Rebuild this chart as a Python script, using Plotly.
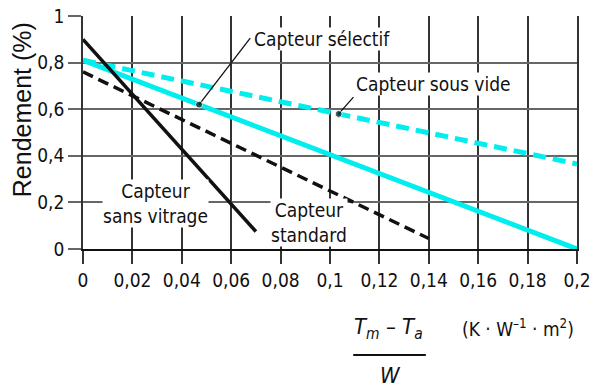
import numpy as np
import plotly.graph_objects as go

# ---- data ----
sans_vitrage_x = [0.0, 0.07]
sans_vitrage_y = [0.90, 0.075]
standard_x = [0.0, 0.14]
standard_y = [0.76, 0.045]
selectif_x = [0.0, 0.2]
selectif_y = [0.81, 0.0]
sous_vide_x = [0.0, 0.2]
sous_vide_y = [0.81, 0.365]

x_tickvals = [0, 0.02, 0.04, 0.06, 0.08, 0.1, 0.12, 0.14, 0.16, 0.18, 0.2]
x_ticktext = ["0", "0,02", "0,04", "0,06", "0,08", "0,1", "0,12", "0,14", "0,16", "0,18", "0,2"]
y_tickvals = [0, 0.2, 0.4, 0.6, 0.8, 1]
y_ticktext = ["0", "0,2", "0,4", "0,6", "0,8", "1"]

NARROW = "DejaVu Sans Condensed, Liberation Sans Narrow, sans-serif"
REG = "Liberation Sans, Arial, sans-serif"
CYAN = "#00EEEE"

fig = go.Figure()
fig.add_trace(go.Scatter(x=sous_vide_x, y=sous_vide_y, mode="lines",
                         line=dict(color=CYAN, width=5, dash="13px,7px")))
fig.add_trace(go.Scatter(x=selectif_x, y=selectif_y, mode="lines",
                         line=dict(color=CYAN, width=5)))
fig.add_trace(go.Scatter(x=standard_x, y=standard_y, mode="lines",
                         line=dict(color="#111", width=3.5, dash="11px,6px")))
fig.add_trace(go.Scatter(x=sans_vitrage_x, y=sans_vitrage_y, mode="lines",
                         line=dict(color="#111", width=3.5)))

# leader lines with dots pointing to the curves
sel_px = 0.047
sel_py = float(np.interp(sel_px, selectif_x, selectif_y))
sv_px = 0.1035
sv_py = float(np.interp(sv_px, sous_vide_x, sous_vide_y))
for (tx, ty), (px, py) in [((0.0677, 0.905), (sel_px, sel_py)),
                           ((0.1095, 0.652), (sv_px, sv_py))]:
    fig.add_trace(go.Scatter(x=[tx, px], y=[ty, py], mode="lines+markers",
                             line=dict(color="#111", width=1.3),
                             marker=dict(size=[0, 7], color="#111")))

afont = dict(family=NARROW, size=19, color="#111")

annotations = [
    dict(x=0.069, y=0.901, text="Capteur sélectif", showarrow=False,
         xanchor="left", yanchor="middle", font=afont, bgcolor="white", borderpad=0),
    dict(x=0.1103, y=0.708, text="Capteur sous vide", showarrow=False,
         xanchor="left", yanchor="middle", font=afont, bgcolor="white", borderpad=0),
    dict(x=0.0292, y=0.197, text="Capteur<br>sans vitrage", showarrow=False,
         xanchor="center", yanchor="middle", align="center", font=afont,
         bgcolor="white", borderpad=0),
    dict(x=0.0913, y=0.115, text="Capteur<br>standard", showarrow=False,
         xanchor="center", yanchor="middle", align="center", font=afont,
         bgcolor="white", borderpad=0),
    # y axis title
    dict(xref="paper", yref="paper", x=-0.1235, y=0.60, text="Rendement (%)",
         textangle=-90, showarrow=False, xanchor="center", yanchor="middle",
         font=dict(family=REG, size=25, color="#111")),
    # x axis title (fraction + units)
    dict(xref="paper", yref="paper", x=0.619, y=-0.343,
         text="<i>T</i><sub><i>m</i></sub> – <i>T</i><sub><i>a</i></sub>",
         showarrow=False, xanchor="center", yanchor="middle",
         font=dict(family=NARROW, size=22, color="#111")),
    dict(xref="paper", yref="paper", x=0.623, y=-0.545, text="<i>W</i>",
         showarrow=False, xanchor="center", yanchor="middle",
         font=dict(family=NARROW, size=22, color="#111")),
    dict(xref="paper", yref="paper", x=0.8796, y=-0.339,
         text="(K · W<sup>–1</sup> · m<sup>2</sup>)",
         showarrow=False, xanchor="center", yanchor="middle",
         font=dict(family=NARROW, size=19, color="#111")),
]

shapes = [
    dict(type="line", xref="paper", yref="paper", x0=0.547, x1=0.694,
         y0=-0.455, y1=-0.455, line=dict(color="#111", width=2)),
]

fig.update_layout(
    width=591, height=388,
    margin=dict(l=83, r=14, t=16, b=139, autoexpand=False),
    paper_bgcolor="white", plot_bgcolor="white",
    showlegend=False,
    annotations=annotations, shapes=shapes,
    font=dict(family=NARROW, size=19, color="#111"),
)
fig.update_xaxes(
    range=[0, 0.2], tickvals=x_tickvals, ticktext=x_ticktext, automargin=False,
    ticklabeloverflow="allow",
    showgrid=True, gridcolor="#333", gridwidth=1.5,
    ticks="outside", ticklen=13, tickwidth=1.5, tickcolor="#333",
    showline=True, linecolor="#111", linewidth=2.2, zeroline=False,
    tickfont=dict(family=NARROW, size=19, color="#111"),
)
fig.update_yaxes(
    range=[0, 1], tickvals=y_tickvals, ticktext=y_ticktext, automargin=False,
    ticklabeloverflow="allow",
    showgrid=True, gridcolor="#666", gridwidth=2.2,
    ticks="outside", ticklen=13, tickwidth=2.2, tickcolor="#666",
    showline=True, linecolor="#333", linewidth=1.5, mirror=True, zeroline=False,
    tickfont=dict(family=NARROW, size=19, color="#111"),
)

fig.write_html(
    "out.html",
    config={"displayModeBar": False},
    post_script="document.body.style.margin='0';document.body.style.overflow='hidden';",
)
